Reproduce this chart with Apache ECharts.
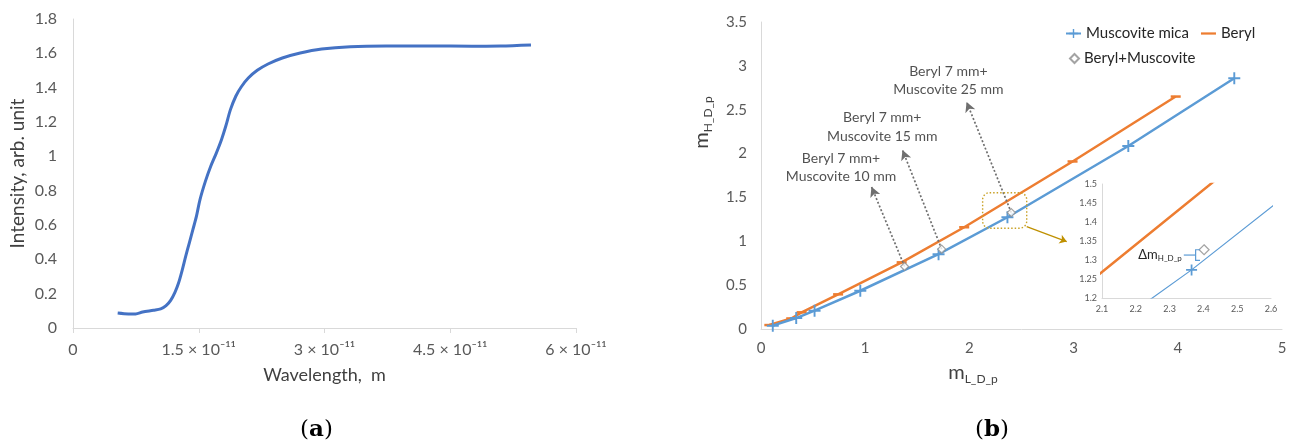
<!DOCTYPE html>
<html>
<head>
<meta charset="utf-8">
<script src="https://cdn.jsdelivr.net/npm/echarts@6/dist/echarts.min.js"></script>
<style>
  html, body { margin: 0; padding: 0; background: #ffffff; }
  #chart { width: 1293px; height: 445px; }
</style>
</head>
<body>
<div id="chart"></div>
<script>
// ---- (a) spectrum: wavelength in metres, intensity in arbitrary units ----
const wavelength = [
  5.33e-12, 6.6e-12, 7.47e-12, 8.3e-12, 9.6e-12, 1.046e-11, 1.11e-11, 1.165e-11,
  1.216e-11, 1.259e-11, 1.302e-11, 1.344e-11, 1.387e-11, 1.43e-11, 1.472e-11,
  1.515e-11, 1.579e-11, 1.643e-11, 1.707e-11, 1.771e-11, 1.822e-11, 1.878e-11,
  1.942e-11, 2.006e-11, 2.091e-11, 2.198e-11, 2.326e-11, 2.497e-11, 2.71e-11,
  2.966e-11, 3.308e-11, 3.734e-11, 4.247e-11, 4.759e-11, 5.1e-11, 5.463e-11
];
const intensity = [
  0.087, 0.082, 0.082, 0.093, 0.103, 0.111, 0.130, 0.161,
  0.208, 0.262, 0.336, 0.417, 0.495, 0.573, 0.650,
  0.748, 0.854, 0.942, 1.016, 1.097, 1.175, 1.272,
  1.350, 1.404, 1.456, 1.501, 1.538, 1.573, 1.602,
  1.625, 1.639, 1.643, 1.643, 1.641, 1.643, 1.649
];
const wavelengthTicks = ['0', '1.5 × 10⁻¹¹', '3 × 10⁻¹¹', '4.5 × 10⁻¹¹', '6 × 10⁻¹¹'];

// ---- (b) m_H_D_p against m_L_D_p ----
const muscoviteL = [0.113, 0.338, 0.514, 0.953, 1.704, 2.365, 3.525, 4.542];
const muscoviteH = [0.038, 0.125, 0.209, 0.436, 0.853, 1.274, 2.086, 2.859];
const berylL = [0.08, 0.29, 0.39, 0.74, 1.35, 1.95, 2.99, 3.98];
const berylH = [0.045, 0.12, 0.19, 0.395, 0.76, 1.16, 1.91, 2.65];
const mixL = [1.378, 1.734, 2.402];
const mixH = [0.713, 0.910, 1.327];
const mixNotes = [
  'Beryl 7 mm+\nMuscovite 10 mm',
  'Beryl 7 mm+\nMuscovite 15 mm',
  'Beryl 7 mm+\nMuscovite 25 mm'
];

// placement of the callout texts and arrow tips, in (m_L_D_p, m_H_D_p) units
const calloutLayout = {
  textAt: [[0.768, 1.841], [1.164, 2.305], [1.798, 2.836]],
  tipAt:  [[1.06, 1.622], [1.358, 2.040], [1.973, 2.589]],
  zoomBox: [[2.127, 1.554], [2.55, 1.149]],
  zoomArrow: [[2.55, 1.167], [2.934, 0.997]]
};

const BLUE_A = '#4472C4';
const BLUE = '#5B9BD5';
const ORANGE = '#ED7D31';
const GREY_TXT = '#595959';
const AXIS_LINE = '#D9D9D9';
const FONT = 'Lato, "Open Sans", sans-serif';
const PLUS = 'path://M4.2,0H5.8V10H4.2Z M0,4.2H10V5.8H0Z';
const BAR = 'path://M0,0H20V3H0Z';

const pair = (xs, ys) => xs.map((x, i) => [x, ys[i]]);
const spectrum = wavelength.map((w, i) => [w / 1e-11, intensity[i]]);
const muscovite = pair(muscoviteL, muscoviteH);
const beryl = pair(berylL, berylH);
const mix = pair(mixL, mixH);

const axisBase = (fontSize) => ({
  type: 'value',
  axisLine: { show: true, lineStyle: { color: AXIS_LINE, width: 1 } },
  axisTick: { show: false },
  splitLine: { show: false },
  axisLabel: { color: GREY_TXT, fontSize: fontSize, fontFamily: FONT }
});

const chart = echarts.init(document.getElementById('chart'), null, { renderer: 'canvas' });

const option = {
  animation: false,
  backgroundColor: '#ffffff',
  grid: [
    { left: 73, top: 19, width: 503, height: 309 },
    { left: 761, top: 22, width: 521, height: 307 },
    { left: 1102, top: 184, width: 169, height: 114, z: 5 }
  ],
  legend: [
    {
      data: ['Muscovite mica', { name: 'Beryl', icon: BAR }],
      left: 1060, top: 21, itemWidth: 15, itemHeight: 11, itemGap: 12,
      symbolKeepAspect: true,
      textStyle: { fontSize: 15, color: '#262626', fontFamily: FONT }
    },
    {
      data: ['Beryl+Muscovite'],
      left: 1064, top: 46, itemWidth: 9, itemHeight: 9,
      textStyle: { fontSize: 15, color: '#262626', fontFamily: FONT }
    }
  ],
  xAxis: [
    Object.assign(axisBase(16), {
      gridIndex: 0, min: 0, max: 6, interval: 1.5,
      axisTick: { show: true, length: 5, lineStyle: { color: AXIS_LINE } },
      axisLabel: {
        color: GREY_TXT, fontSize: 16, fontFamily: FONT, margin: 14,
        formatter: (v) => wavelengthTicks[Math.round(v / 1.5)]
      },
      name: 'Wavelength,  m', nameLocation: 'middle', nameGap: 38,
      nameTextStyle: { fontSize: 18, color: '#404040', fontFamily: FONT }
    }),
    Object.assign(axisBase(15), {
      gridIndex: 1, min: 0, max: 5, interval: 1,
      axisLabel: { color: GREY_TXT, fontSize: 15, fontFamily: FONT, margin: 12 },
      name: '{m|m}{s|L_D_p}', nameLocation: 'middle', nameGap: 28,
      nameTextStyle: {
        padding: [0, 97, 0, 0],
        rich: {
          m: { fontSize: 20, color: '#404040', fontFamily: FONT, lineHeight: 22 },
          s: { fontSize: 12, color: '#404040', fontFamily: FONT, lineHeight: 22, padding: [12, 0, 0, 0] }
        }
      }
    }),
    Object.assign(axisBase(9), {
      gridIndex: 2, min: 2.1, max: 2.6, interval: 0.1,
      axisLabel: { color: GREY_TXT, fontSize: 9, fontFamily: FONT, margin: 7 }
    })
  ],
  yAxis: [
    Object.assign(axisBase(16), {
      gridIndex: 0, min: 0, max: 1.8, interval: 0.2,
      axisLabel: { color: GREY_TXT, fontSize: 16, fontFamily: FONT, margin: 16 },
      name: 'Intensity, arb. unit', nameLocation: 'middle', nameGap: 46,
      nameTextStyle: { fontSize: 19, color: '#404040', fontFamily: FONT }
    }),
    Object.assign(axisBase(15), {
      gridIndex: 1, min: 0, max: 3.5, interval: 0.5,
      axisLabel: { color: GREY_TXT, fontSize: 15, fontFamily: FONT, margin: 14 },
      name: '{m|m}{s|H_D_p}', nameLocation: 'middle', nameGap: 48,
      nameTextStyle: {
        padding: [0, 0, 0, 106],
        rich: {
          m: { fontSize: 20, color: '#404040', fontFamily: FONT, lineHeight: 22 },
          s: { fontSize: 12, color: '#404040', fontFamily: FONT, lineHeight: 22, padding: [12, 0, 0, 0] }
        }
      }
    }),
    Object.assign(axisBase(9), {
      gridIndex: 2, min: 1.2, max: 1.5, interval: 0.05,
      axisLabel: { color: GREY_TXT, fontSize: 9, fontFamily: FONT, margin: 5 }
    })
  ],
  series: [
    {
      name: 'Intensity', type: 'line', xAxisIndex: 0, yAxisIndex: 0,
      data: spectrum, smooth: 0.3, showSymbol: false,
      lineStyle: { color: BLUE_A, width: 3 }, itemStyle: { color: BLUE_A }
    },
    {
      name: 'Beryl', type: 'line', xAxisIndex: 1, yAxisIndex: 1,
      data: beryl, symbol: 'rect', symbolSize: [10, 2.5], showAllSymbol: true,
      lineStyle: { color: ORANGE, width: 2.5 }, itemStyle: { color: ORANGE }, z: 3
    },
    {
      name: 'Muscovite mica', type: 'line', xAxisIndex: 1, yAxisIndex: 1,
      data: muscovite, symbol: PLUS, symbolSize: 12, showAllSymbol: true,
      lineStyle: { color: BLUE, width: 2.5 }, itemStyle: { color: BLUE }, z: 4
    },
    {
      name: 'Beryl+Muscovite', type: 'scatter', xAxisIndex: 1, yAxisIndex: 1,
      data: mix, symbol: 'diamond', symbolSize: 8, z: 6,
      itemStyle: { color: '#ffffff', borderColor: '#8c8c8c', borderWidth: 1.2 },
      markLine: {
        silent: true, symbol: ['none', 'arrow'], symbolSize: [8, 10],
        label: { show: false },
        lineStyle: { color: '#6f6f6f', type: [2, 2], width: 1.7 },
        data: mix.map((p, i) => [
          { coord: p },
          { coord: calloutLayout.tipAt[i] }
        ]).concat([[
          { coord: calloutLayout.zoomArrow[0], lineStyle: { color: '#BF9000', type: 'solid', width: 1.3 }, symbolSize: 7 },
          { coord: calloutLayout.zoomArrow[1], symbolSize: 7 }
        ]])
      }
    },
    {
      name: 'callouts', type: 'scatter', xAxisIndex: 1, yAxisIndex: 1,
      data: calloutLayout.textAt.map((p, i) => ({ value: p, note: mixNotes[i] })),
      symbolSize: 0, silent: true, z: 7,
      label: {
        show: true, position: 'inside',
        formatter: (p) => p.data.note,
        fontSize: 14, lineHeight: 18.5, color: '#262626', fontFamily: FONT, align: 'center'
      }
    },
    // magnified view
    {
      name: 'Beryl detail', type: 'line', xAxisIndex: 2, yAxisIndex: 2,
      data: beryl, showSymbol: false, clip: true,
      lineStyle: { color: ORANGE, width: 2.5 }, itemStyle: { color: ORANGE }
    },
    {
      name: 'Muscovite detail', type: 'line', xAxisIndex: 2, yAxisIndex: 2,
      data: muscovite, symbol: PLUS, symbolSize: 11, showAllSymbol: true, clip: true,
      lineStyle: { color: BLUE, width: 1.2 }, itemStyle: { color: BLUE }
    },
    {
      name: 'Mix detail', type: 'scatter', xAxisIndex: 2, yAxisIndex: 2,
      data: mix, symbol: 'diamond', symbolSize: 10, clip: true,
      itemStyle: { color: '#ffffff', borderColor: '#8c8c8c', borderWidth: 1.2 }
    }
  ]
};

chart.setOption(option);

// decorations placed through the axes' own scales
const px = (gridIndex, p) => chart.convertToPixel({ xAxisIndex: gridIndex, yAxisIndex: gridIndex }, p);
const boxA = px(1, calloutLayout.zoomBox[0]);
const boxB = px(1, calloutLayout.zoomBox[1]);

// bracket marking the difference between the mixture and muscovite
const dTop = px(2, [2.39, mixH[2]]);
const dBot = px(2, [2.39, 1.299]);
const dMidY = (dTop[1] + dBot[1]) / 2;
const dInner = px(2, [2.377, 1.3])[0];
const dStart = px(2, [2.342, 1.3])[0];

chart.setOption({
  graphic: [
    {
      type: 'rect', z: 10, silent: true,
      shape: { x: boxA[0], y: boxA[1], width: boxB[0] - boxA[0], height: boxB[1] - boxA[1], r: 7 },
      style: { fill: 'none', stroke: '#C9A227', lineWidth: 1.4, lineDash: [1.5, 2] }
    },
    {
      type: 'polyline', z: 10, silent: true,
      shape: { points: [[dTop[0], dTop[1]], [dInner, dTop[1]], [dInner, dBot[1]], [dTop[0], dBot[1]]] },
      style: { stroke: BLUE, lineWidth: 1.2, fill: 'none' }
    },
    {
      type: 'line', z: 10, silent: true,
      shape: { x1: dStart, y1: dMidY, x2: dInner, y2: dMidY },
      style: { stroke: BLUE, lineWidth: 1.2 }
    },
    {
      type: 'text', z: 10, silent: true,
      x: dStart - 2, y: dMidY,
      style: {
        text: '{d|Δm}{s|H_D_p}',
        align: 'right', verticalAlign: 'middle',
        rich: {
          d: { fontSize: 13, fontFamily: FONT, fill: '#262626', lineHeight: 14 },
          s: { fontSize: 8, fontFamily: FONT, fill: '#262626', lineHeight: 14, padding: [7, 0, 0, 0] }
        }
      }
    },
    {
      type: 'text', silent: true, left: 300, top: 419,
      style: {
        text: '({b|a})', fill: '#000000',
        font: '23px "DejaVu Serif", serif',
        rich: { b: { fontWeight: 'bold', fontSize: 23, fontFamily: '"DejaVu Serif", serif' } }
      }
    },
    {
      type: 'text', silent: true, left: 975, top: 419,
      style: {
        text: '({b|b})', fill: '#000000',
        font: '23px "DejaVu Serif", serif',
        rich: { b: { fontWeight: 'bold', fontSize: 23, fontFamily: '"DejaVu Serif", serif' } }
      }
    }
  ]
});
</script>
</body>
</html>
